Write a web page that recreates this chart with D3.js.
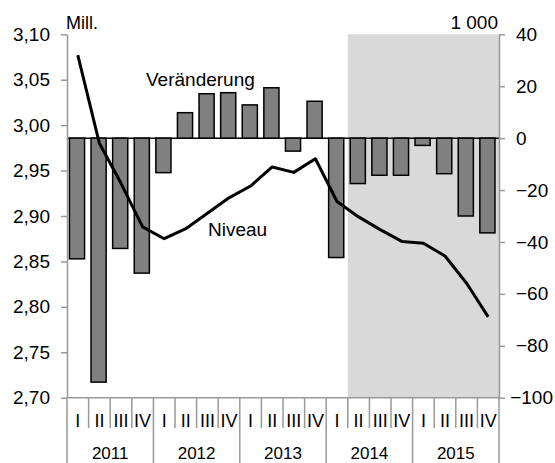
<!DOCTYPE html>
<html>
<head>
<meta charset="utf-8">
<script src="https://cdn.jsdelivr.net/npm/d3@7"></script>
<style>
  html, body { margin: 0; padding: 0; background: #fff; }
  svg { display: block; }
  text { font-family: "Liberation Sans", Arial, sans-serif; fill: #000; }
</style>
</head>
<body>
<svg id="chart" width="555" height="463"></svg>
<script>
// ---- data ----
const years = ["2011", "2012", "2013", "2014", "2015"];
const quarterLabels = ["I", "II", "III", "IV"];
// Veränderung (1 000), right axis
const veraenderung = [-46.5, -94, -42.5, -52, -13.3, 9.8, 17.1, 17.5, 12.8, 19.4, -5.0, 14.2, -46, -17.5, -14.3, -14.3, -2.8, -13.7, -30, -36.5];
// Niveau (Mill.), left axis
const niveau = [3.077, 2.980, 2.936, 2.888, 2.875, 2.886, 2.903, 2.920, 2.933, 2.954, 2.948, 2.963, 2.916, 2.899, 2.885, 2.872, 2.870, 2.856, 2.826, 2.789];
const leftTicks = [2.70, 2.75, 2.80, 2.85, 2.90, 2.95, 3.00, 3.05, 3.10];
const rightTicks = [-100, -80, -60, -40, -20, 0, 20, 40];
const shadeFromQuarter = 13; // shaded period start (index of quarter)

// ---- layout ----
const X0 = 67, X1 = 499, Y0 = 34.3, Y1 = 397.7;
const FS = 19;
const axisColor = "#999";

const svg = d3.select("#chart");
const n = veraenderung.length;
const idx = d3.range(n);
const labelsQ = idx.map(i => quarterLabels[i % 4]);

const xb = d3.scaleBand().domain(idx).range([X0, X1]).paddingInner(0.3).paddingOuter(0.15);
const xq = d3.scaleLinear().domain([0, n]).range([X0, X1]);
const yL = d3.scaleLinear().domain([2.70, 3.10]).range([Y1, Y0]);
const yR = d3.scaleLinear().domain([-100, 40]).range([Y1, Y0]);

// shaded area
svg.append("rect")
  .attr("x", xq(shadeFromQuarter)).attr("y", Y0)
  .attr("width", xq(n) - xq(shadeFromQuarter)).attr("height", Y1 - Y0)
  .attr("fill", "#d9d9d9");

// zero line
svg.append("line")
  .attr("x1", xq(0)).attr("x2", xq(n))
  .attr("y1", yR(0)).attr("y2", yR(0))
  .attr("stroke", "#000").attr("stroke-width", 1.5);

// bars
svg.append("g").selectAll("rect").data(veraenderung).join("rect")
  .attr("x", (d, i) => xb(i) - 0.8)
  .attr("width", xb.bandwidth())
  .attr("y", d => Math.min(yR(d), yR(0)))
  .attr("height", d => Math.abs(yR(d) - yR(0)))
  .attr("fill", "#808080")
  .attr("stroke", "#000").attr("stroke-width", 1.5);

// Niveau line
const line = d3.line().x((d, i) => xb(i) + xb.bandwidth() / 2).y(d => yL(d));
svg.append("path").datum(niveau)
  .attr("d", line)
  .attr("fill", "none").attr("stroke", "#000").attr("stroke-width", 3)
  .attr("stroke-linejoin", "round");

// left axis
const fmt = d => d3.format(".2f")(d).replace(".", ",");
const gL = svg.append("g").attr("transform", `translate(${X0},0)`)
  .call(d3.axisLeft(yL).tickValues(leftTicks).tickFormat(fmt).tickSize(6).tickPadding(11).tickSizeOuter(0));
gL.select(".domain").attr("stroke", axisColor).attr("stroke-width", 1.5);
gL.selectAll(".tick line").attr("stroke", axisColor).attr("stroke-width", 1.5);
gL.selectAll(".tick text").attr("font-size", FS).attr("font-family", "Liberation Sans, Arial, sans-serif").attr("fill", "#000");

// right axis
const gR = svg.append("g").attr("transform", `translate(${X1},0)`)
  .call(d3.axisRight(yR).tickValues(rightTicks).tickSize(6).tickPadding(11).tickSizeOuter(0));
gR.select(".domain").attr("stroke", axisColor).attr("stroke-width", 1.5);
gR.selectAll(".tick line").attr("stroke", axisColor).attr("stroke-width", 1.5);
gR.selectAll(".tick text").attr("font-size", FS).attr("font-family", "Liberation Sans, Arial, sans-serif").attr("fill", "#000")
  .each(function(d) {
    if (d === -100) d3.select(this).attr("text-anchor", "end").attr("x", 553 - X1);
  });

// bottom category axis (gray lines)
const gB = svg.append("g");
gB.append("line").attr("x1", X0).attr("x2", X1).attr("y1", Y1).attr("y2", Y1)
  .attr("stroke", axisColor).attr("stroke-width", 1.5);
gB.selectAll("line.sep").data(d3.range(n + 1)).join("line")
  .attr("class", "sep")
  .attr("x1", k => xq(k)).attr("x2", k => xq(k))
  .attr("y1", Y1).attr("y2", k => (k % 4 === 0 ? 463 : 428))
  .attr("stroke", axisColor).attr("stroke-width", 1.5);
gB.selectAll("text.q").data(labelsQ).join("text")
  .attr("class", "q")
  .attr("x", (d, i) => xq(i + 0.5)).attr("y", 427)
  .attr("text-anchor", "middle").attr("font-size", 18)
  .text(d => d);
gB.selectAll("text.y").data(years).join("text")
  .attr("class", "y")
  .attr("x", (d, i) => xq(i * 4 + 2)).attr("y", 459)
  .attr("text-anchor", "middle").attr("font-size", 17)
  .text(d => d);

// unit labels
svg.append("text").attr("x", 66).attr("y", 29).attr("font-size", FS - 1).text("Mill.");
svg.append("text").attr("x", 498).attr("y", 29).attr("text-anchor", "end").attr("font-size", FS).text("1 000");

// series labels
svg.append("text").attr("x", 146).attr("y", 86).attr("font-size", FS).text("Veränderung");
svg.append("text").attr("x", 208).attr("y", 236).attr("font-size", FS).text("Niveau");
</script>
</body>
</html>
